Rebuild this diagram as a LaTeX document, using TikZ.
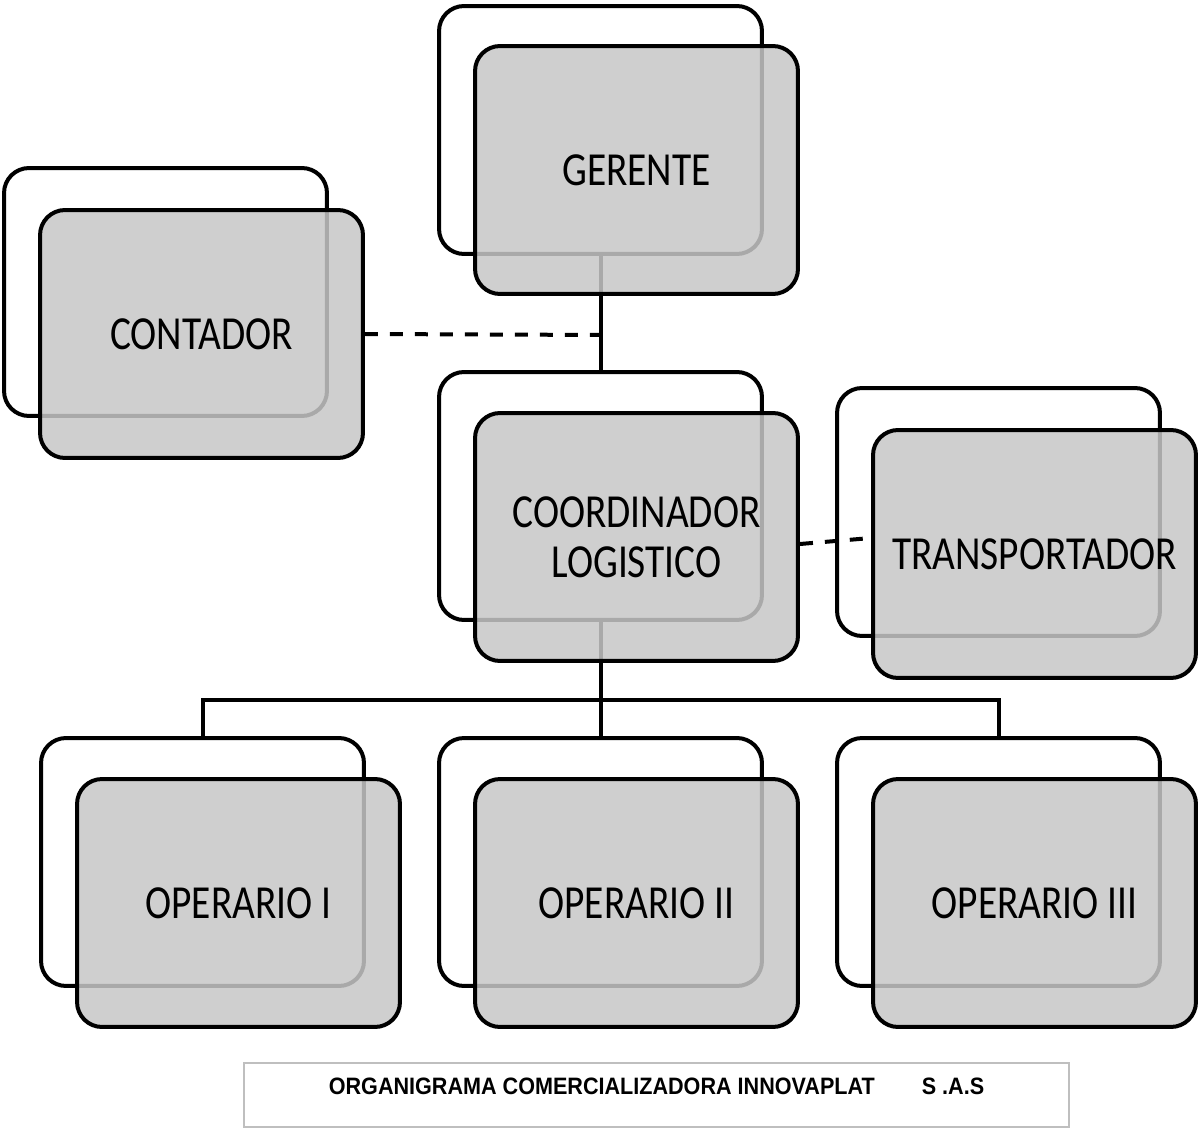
\documentclass[tikz,border=0pt]{standalone}
\usepackage{fontspec}
\setmainfont[FakeStretch=0.83]{Carlito}
\newfontfamily\captionfont[FakeStretch=0.91]{Liberation Sans}
\begin{document}
\begin{tikzpicture}[
    x=0.02cm, y=-0.02cm,
    backbox/.style={rectangle, rounded corners=0.5cm, draw, line width=0.08cm, fill=white,
      minimum width=6.46cm, minimum height=4.96cm, inner sep=0pt},
    frontbox/.style={backbox, fill=black!22, fill opacity=0.85, text opacity=1,
      font=\fontsize{27}{28.5}\selectfont, align=center},
    link/.style={line width=0.08cm},
    dashlink/.style={link, dash pattern=on 0.26cm off 0.24cm},
    captionbox/.style={draw=black!25, line width=0.04cm, minimum width=16.5cm, minimum height=1.28cm}
  ]
  \useasboundingbox (0,0) rectangle (1199,1131);
  \node[backbox] (gerenteB) at (600.5,130) {};
  \node[backbox] (contadorB) at (165.5,292) {};
  \node[backbox] (coordB) at (600.5,496) {};
  \node[backbox] (transpB) at (998.5,512) {};
  \node[backbox] (op1B) at (202.5,862) {};
  \node[backbox] (op2B) at (600.5,862) {};
  \node[backbox] (op3B) at (998.5,862) {};
  \coordinate (bus) at (600.5,700);
  \draw[link] (gerenteB.south) -- (coordB.north);
  \draw[link] (coordB.south) -- (op2B.north);
  \draw[link] (op1B.north) |- (bus) -| (op3B.north);
  \node[frontbox] (gerente) at (636.5,170) {GERENTE};
  \node[frontbox] (contador) at (201.5,334) {CONTADOR};
  \node[frontbox] (coord) at (636.5,537) {COORDINADOR\\LOGISTICO};
  \node[frontbox] (transp) at (1034.5,554) {TRANSPORTADOR};
  \node[frontbox] (op1) at (238.5,903) {OPERARIO I};
  \node[frontbox] (op2) at (636.5,903) {OPERARIO II};
  \node[frontbox] (op3) at (1034.5,903) {OPERARIO III};
  \coordinate (dashend) at (608,335);
  \draw[dashlink] (contador.east) -- (dashend);
  \draw[dashlink] ([yshift=-0.14cm]coord.east) -- ([yshift=0.32cm]transp.west);
  \node[captionbox] (caption) at (656.5,1095) {};
  \node[font=\captionfont\bfseries\fontsize{13.5}{16}\selectfont] (title)
    at ([yshift=-0.48cm]caption.north) {ORGANIGRAMA COMERCIALIZADORA INNOVAPLAT\hspace{0.94cm}S .A.S};
\end{tikzpicture}
\end{document}
